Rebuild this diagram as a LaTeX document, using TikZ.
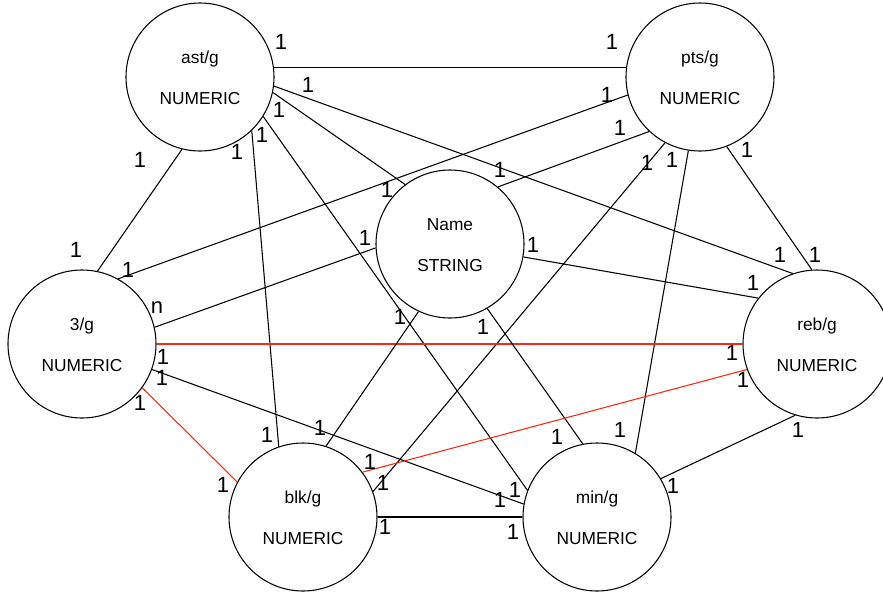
\documentclass[tikz,border=0pt]{standalone}
\usepackage{fontspec}
\setmainfont{Liberation Sans}
\definecolor{relred}{RGB}{250,40,20}
\tikzset{
  entity/.style={circle, draw=black, line width=0.8pt, minimum size=111pt, inner sep=0pt},
  etext/.style={anchor=base, inner sep=0pt, font=\fontsize{13}{15}\selectfont},
  card/.style={inner sep=0pt, font=\fontsize{16.5}{18}\selectfont},
  rel/.style={draw=black, line width=0.8pt},
  relhl/.style={draw=relred, line width=0.8pt},
}
% entity: name, centre x, centre y, attribute, type
\newcommand\entitycircle[5]{%
  \node[entity] (#1) at (#2,#3) {};
  \node[etext] (#1-attr) at (#2,#3-14) {#4};
  \node[etext] (#1-type) at (#2,#3+27) {#5};
}
\begin{document}
\begin{tikzpicture}[x=0.75pt,y=-0.75pt]
\useasboundingbox (0,0) rectangle (883,594);

\entitycircle{ast}{200}{77}{ast/g}{NUMERIC}
\entitycircle{pts}{700}{77}{pts/g}{NUMERIC}
\entitycircle{thr}{82}{344}{3/g}{NUMERIC}
\entitycircle{name}{450}{244}{Name}{STRING}
\entitycircle{reb}{817}{344}{reb/g}{NUMERIC}
\entitycircle{blk}{303}{517}{blk/g}{NUMERIC}
\entitycircle{min}{597}{517}{min/g}{NUMERIC}

% relationships
\draw[rel] (ast.7) -- (pts.173);
\draw[rel] (ast.-7) -- (reb.109);
\draw[rel] (ast.-12) -- (name.127);
\draw[rel] (ast.-32) -- (min.159);
\draw[rel] (ast.-46) -- (blk.109);
\draw[rel] (ast.256) -- (thr.78);
\draw[rel] (pts.194) -- (thr.61);
\draw[rel] (pts.227) -- (name.50);
\draw[rel] (pts.242) -- (blk.20);
\draw[rel] (pts.261) -- (min.59);
\draw[rel] (pts.-69) -- (reb.94);
\draw[rel] (thr.13) -- (name.183);
\draw[relhl] (thr.0) -- (reb.180);
\draw[rel] (thr.-20) -- (min.170);
\draw[relhl] (thr.-36) -- (blk.152);
\draw[rel] (name.-10) -- (reb.142);
\draw[rel] (name.245) -- (blk.72);
\draw[rel] (name.-60) -- (min.101);
\draw[relhl] (reb.200) -- (blk.37);
\draw[rel] (reb.253) -- (min.31);
\draw[rel] (blk.0) -- (min.180);

% cardinalities
\node[card] (c01) at (281,42) {1};
\node[card] (c02) at (308,85) {1};
\node[card] (c03) at (279,110) {1};
\node[card] (c04) at (262,135) {1};
\node[card] (c05) at (237,152) {1};
\node[card] (c06) at (140,160) {1};
\node[card] (c07) at (387,190) {1};
\node[card] (c08) at (612,42) {1};
\node[card] (c09) at (607,95) {1};
\node[card] (c10) at (620,128) {1};
\node[card] (c11) at (647,163) {1};
\node[card] (c12) at (672,160) {1};
\node[card] (c13) at (747,150) {1};
\node[card] (c14) at (500,170) {1};
\node[card] (c15) at (76,250) {1};
\node[card] (c16) at (128,270) {1};
\node[card] (c17) at (157,308) {n};
\node[card] (c18) at (163,357) {1};
\node[card] (c19) at (162,378) {1};
\node[card] (c20) at (140,403) {1};
\node[card] (c21) at (365,238) {1};
\node[card] (c22) at (533,245) {1};
\node[card] (c23) at (400,317) {1};
\node[card] (c24) at (483,327) {1};
\node[card] (c25) at (780,255) {1};
\node[card] (c26) at (815,255) {1};
\node[card] (c27) at (753,283) {1};
\node[card] (c28) at (732,353) {1};
\node[card] (c29) at (743,380) {1};
\node[card] (c30) at (620,430) {1};
\node[card] (c31) at (267,435) {1};
\node[card] (c32) at (320,428) {1};
\node[card] (c33) at (370,462) {1};
\node[card] (c34) at (383,483) {1};
\node[card] (c35) at (223,485) {1};
\node[card] (c36) at (385,527) {1};
\node[card] (c37) at (557,437) {1};
\node[card] (c38) at (515,490) {1};
\node[card] (c39) at (500,500) {1};
\node[card] (c40) at (513,532) {1};
\node[card] (c41) at (673,486) {1};
\node[card] (c42) at (798,430) {1};
\end{tikzpicture}
\end{document}
